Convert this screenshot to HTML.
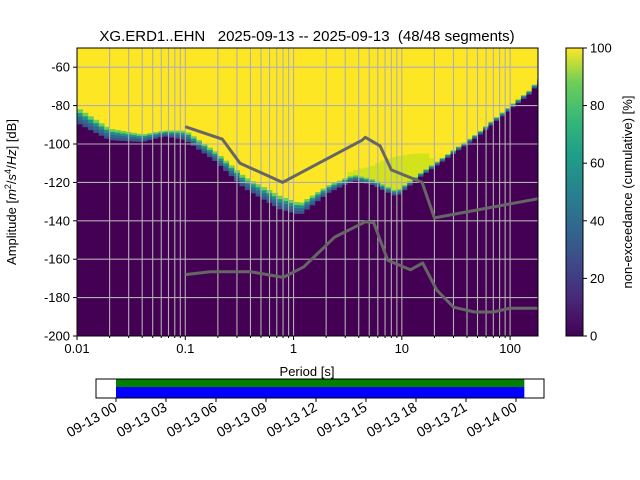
<!DOCTYPE html>
<html><head><meta charset="utf-8"><style>
body{margin:0;background:#fff;}
svg{display:block;font-family:"Liberation Sans","DejaVu Sans",sans-serif;}
</style></head><body>
<svg id="c" width="640" height="480" viewBox="0 0 640 480"></svg>
<script>
// ---- data ----
const boundaryPeriods = [0.01,0.02,0.04,0.065,0.1,0.19,0.35,0.75,1.15,2.1,3.6,5.5,8.9,15,27,51,100,160,181];
const boundaryDb      = [-89,-98,-99,-96,-98,-109,-123,-134,-137,-125.5,-119,-121.5,-127.5,-117,-107,-96,-82,-73,-68];
const bandDb          = [8,6,4,3,5,5,6,7,6,4,3,3,3,2,2,2,2,2,2];
const greenPeriods = [2.6,3.2,4,5,6.5,8,10,13,17,21];
const greenTopDb   = [-125,-115,-113,-112,-109,-107,-106,-105,-105,-110];
const nhnmPeriods = [0.1,0.22,0.32,0.79,4.3,4.6,6.3,8,15.4,20,181];
const nhnmDb      = [-91,-97.5,-110,-120,-98,-96.5,-101,-113.5,-120,-138.5,-128.5];
const nlnmPeriods = [0.1,0.17,0.4,0.8,1.24,2.4,4.6,5.5,7.4,12,15.6,21,30,47,70,100,181];
const nlnmDb      = [-168,-166.5,-166.5,-169.5,-164,-148.5,-140.5,-141,-160.5,-165.5,-162,-176,-185,-187.5,-187.5,-185.5,-185.5];
const xTickVals = [0.01,0.1,1,10,100];
const xTickLabels = ["0.01","0.1","1","10","100"];
const yTickVals = [-60,-80,-100,-120,-140,-160,-180,-200];
const cbTicks = [0,20,40,60,80,100];
const timeTickLabels = ["09-13 00","09-13 03","09-13 06","09-13 09","09-13 12","09-13 15","09-13 18","09-13 21","09-14 00"];
const timeTickHours = [0,3,6,9,12,15,18,21,24];
const coverageStartH = 0, coverageEndH = 24.5;

// ---- axes ----
const X0=77,X1=538,Y0=48,Y1=336;
const LX0=Math.log10(0.01), LX1=Math.log10(181);
const DB0=-200, DB1=-50;
const xs=p=>X0+(Math.log10(p)-LX0)/(LX1-LX0)*(X1-X0);
const ys=d=>Y1-(d-DB0)/(DB1-DB0)*(Y1-Y0);
const NS="http://www.w3.org/2000/svg";
const svg=document.getElementById('c');
function mk(tag,attrs,parent){const e=document.createElementNS(NS,tag);for(const k in attrs)e.setAttribute(k,attrs[k]);(parent||svg).appendChild(e);return e;}
function interp(px,py,p){const l=Math.log10(p);if(p<=px[0])return py[0];for(let i=1;i<px.length;i++){if(p<=px[i]){const a=Math.log10(px[i-1]),b=Math.log10(px[i]);return py[i-1]+(py[i]-py[i-1])*(l-a)/(b-a);}}return py[py.length-1];}

// title
let t=mk('text',{x:307,y:41,'text-anchor':'middle','font-size':15,style:'white-space:pre'});
t.textContent="XG.ERD1..EHN   2025-09-13 -- 2025-09-13  (48/48 segments)";



// clip
const defs=mk('defs',{});
const cp=mk('clipPath',{id:'pc'},defs);mk('rect',{x:X0,y:Y0,width:X1-X0,height:Y1-Y0},cp);
const grad=mk('linearGradient',{id:'vir',x1:0,y1:1,x2:0,y2:0},defs);
[["0","#440154"],["0.13","#482878"],["0.25","#3e4989"],["0.38","#31688e"],["0.5","#26828e"],["0.63","#1f9e89"],["0.75","#35b779"],["0.88","#6ece58"],["1","#fde725"]].forEach(s=>mk('stop',{offset:s[0],'stop-color':s[1]},grad));

const plot=mk('g',{'clip-path':'url(#pc)'});


mk('rect',{x:X0,y:Y0,width:X1-X0,height:Y1-Y0,fill:'#fde725'},plot);
// columns
const step=1/20;
const bandCols=["#6ece58","#21918c","#31688e","#3b528b"];
for(let l=LX0;l<LX1;l+=step){
  const p=Math.pow(10,l+step/2);
  const xa=X0+(l-LX0)/(LX1-LX0)*(X1-X0), xb=X0+(l+step-LX0)/(LX1-LX0)*(X1-X0);
  const b=interp(boundaryPeriods,boundaryDb,p), bw=interp(boundaryPeriods,bandDb,p);
  if(p>=greenPeriods[0]&&p<=greenPeriods[greenPeriods.length-1]){
    const g=interp(greenPeriods,greenTopDb,p);
    if(g>b){const r=mk('rect',{x:xa,y:ys(g),width:xb-xa+0.5,height:ys(b)-ys(g),fill:'#d2e21b'},plot);
      
      }
  }
  for(let k=0;k<4;k++){
    const top=b+bw*(4-k)/4, bot=b+bw*(3-k)/4;
    const r=mk('rect',{x:xa,y:ys(top),width:xb-xa+0.5,height:ys(bot)-ys(top)+0.3,fill:bandCols[k]},plot);
    
    
  }
  const r=mk('rect',{x:xa,y:ys(b),width:xb-xa+0.5,height:Y1-ys(b),fill:'#440154'},plot);
  
  
}
// grid
for(let d=-4;d<=2;d++)for(let m=1;m<10;m++){const p=m*Math.pow(10,d);if(p<0.01||p>181)continue;
  const g=mk('line',{x1:xs(p),x2:xs(p),y1:Y0,y2:Y1,stroke:'#b0b0b0','stroke-width':1.1},plot);
  
  }
yTickVals.forEach(v=>{const g=mk('line',{x1:X0,x2:X1,y1:ys(v),y2:ys(v),stroke:'#b0b0b0','stroke-width':1.1},plot);
  
  });
// noise models
function line(px,py,name){const pts=px.map((p,i)=>xs(p).toFixed(1)+","+ys(py[i]).toFixed(1)).join(" ");
  const e=mk('polyline',{points:pts,fill:'none',stroke:'#666','stroke-width':3,'stroke-linejoin':'round'},plot);
  
  }
line(nhnmPeriods,nhnmDb,'nhnm-line');
line(nlnmPeriods,nlnmDb,'nlnm-line');
mk('rect',{x:X0,y:Y0,width:X1-X0,height:Y1-Y0,fill:'none',stroke:'#000','stroke-width':1});
// ticks
xTickVals.forEach((v,i)=>{mk('line',{x1:xs(v),x2:xs(v),y1:Y1,y2:Y1+4,stroke:'#000'});
  const e=mk('text',{x:xs(v),y:Y1+17,'text-anchor':'middle','font-size':13});e.textContent=xTickLabels[i];
  
  });
for(let d=-2;d<=2;d++)for(let m=2;m<10;m++){const p=m*Math.pow(10,d);if(p>181)continue;mk('line',{x1:xs(p),x2:xs(p),y1:Y1,y2:Y1+2,stroke:'#000'});}
yTickVals.forEach(v=>{mk('line',{x1:X0-4,x2:X0,y1:ys(v),y2:ys(v),stroke:'#000'});
  const e=mk('text',{x:X0-7,y:ys(v)+4.5,'text-anchor':'end','font-size':13});e.textContent=String(v);
  
  });
let xl=mk('text',{x:307,y:376,'text-anchor':'middle','font-size':13});xl.textContent="Period [s]";


let yl=mk('text',{x:0,y:0,'text-anchor':'middle','font-size':13,transform:'translate(16,192) rotate(-90)'});
yl.innerHTML='Amplitude [<tspan font-style="italic">m</tspan><tspan font-size="9" dy="-5">2</tspan><tspan dy="5">/</tspan><tspan font-style="italic">s</tspan><tspan font-size="9" dy="-5">4</tspan><tspan dy="5">/</tspan><tspan font-style="italic">Hz</tspan>] [dB]';


// colorbar
const cb=mk('rect',{x:566,y:Y0,width:17,height:Y1-Y0,fill:'url(#vir)',stroke:'#000','stroke-width':1});


cbTicks.forEach(v=>{const y=Y1-v/100*(Y1-Y0);mk('line',{x1:583,x2:587,y1:y,y2:y,stroke:'#000'});
  const e=mk('text',{x:590,y:y+4.5,'font-size':13});e.textContent=String(v);
  
  });
let cl=mk('text',{x:0,y:0,'text-anchor':'middle','font-size':13,transform:'translate(632,192) rotate(-90)'});
cl.textContent="non-exceedance (cumulative) [%]";


// timeline
const T0=116,TPH=50/3;
const th=h=>T0+h*TPH;
const tg=mk('g',{});


mk('rect',{x:th(coverageStartH),y:379,width:th(coverageEndH)-th(coverageStartH),height:8,fill:'#008000'},tg);
mk('rect',{x:th(coverageStartH),y:387,width:th(coverageEndH)-th(coverageStartH),height:11,fill:'#0000ff'},tg);
mk('rect',{x:96,y:379,width:448,height:19,fill:'none',stroke:'#000'},tg);
timeTickHours.forEach((h,i)=>{mk('line',{x1:th(h),x2:th(h),y1:398,y2:402,stroke:'#000'},tg);
  const e=mk('text',{x:0,y:0,'text-anchor':'end','font-size':14,transform:`translate(${th(h)+2},${410}) rotate(-30)`},tg);
  e.textContent=timeTickLabels[i];
  
  });
</script>
</body></html>
